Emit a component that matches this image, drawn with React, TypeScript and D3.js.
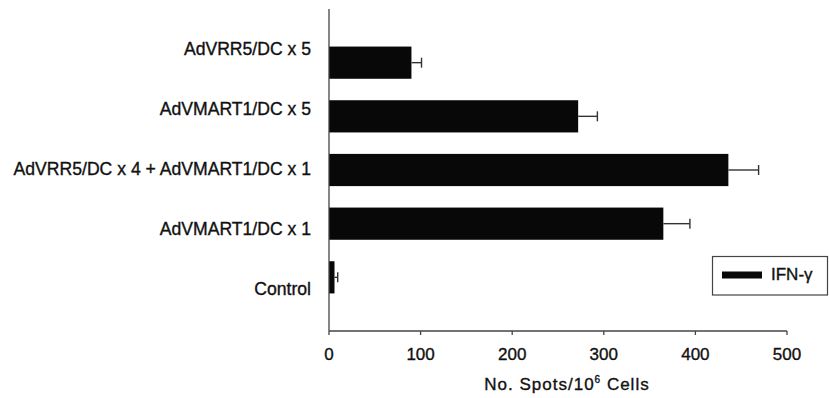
import React from 'react';
import * as d3 from 'd3';

// groups, top to bottom
const categories = [
  'AdVRR5/DC x 5',
  'AdVMART1/DC x 5',
  'AdVRR5/DC x 4 + AdVMART1/DC x 1',
  'AdVMART1/DC x 1',
  'Control',
];
const spots = [90, 272, 436, 365, 6];
const spotsErr = [11, 21, 33, 29, 3.5];
const xTicks = [0, 100, 200, 300, 400, 500];
const seriesName = 'IFN-\u03b3';

const W = 829;
const H = 398;
const FONT = '"Liberation Sans", Arial, Helvetica, sans-serif';

const App: React.FC = () => {
  const x = d3.scaleLinear().domain([0, 500]).range([329, 787]);
  // category axis has 6 slots, bars sit on slots 5..1 (top to bottom)
  const slot = d3.scaleLinear().domain([0, 6]).range([331, 9]);
  const slotH = slot(0) - slot(1);
  const barH = slotH * 0.6;
  // labels in the scan are spaced a bit wider than the bars
  const labelY = d3.scaleLinear().domain([5, 1]).range([55, 295]);

  const rows = categories.map((c, i) => ({
    name: c,
    value: spots[i],
    err: spotsErr[i],
    pos: categories.length - i,
  }));

  const txt = { fill: '#111', stroke: '#111', strokeWidth: 0.35 };

  return (
    <svg
      width={W}
      height={H}
      style={{ position: 'fixed', left: 0, top: 0, background: '#fff' }}
      fontFamily={FONT}
    >
      {/* bars */}
      {rows.map((d) => (
        <rect
          key={d.name}
          x={x(0)}
          y={slot(d.pos) - barH / 2}
          width={x(d.value) - x(0)}
          height={barH}
          fill="#080808"
        />
      ))}

      {/* error bars */}
      {rows.map((d) => {
        const cy = slot(d.pos);
        const xe = x(d.value + d.err);
        return (
          <g key={'e' + d.name} stroke="#333" strokeWidth={1.4}>
            <line x1={x(d.value)} x2={xe} y1={cy} y2={cy} />
            <line x1={xe} x2={xe} y1={cy - 5} y2={cy + 5} />
          </g>
        );
      })}

      {/* axes */}
      <line x1={x(0)} x2={x(0)} y1={slot(6)} y2={slot(0)} stroke="#444" strokeWidth={1.3} />
      <line x1={x(0)} x2={x(500)} y1={slot(0)} y2={slot(0)} stroke="#444" strokeWidth={1.3} />
      {xTicks.map((t) => (
        <g key={t}>
          <line x1={x(t)} x2={x(t)} y1={slot(0)} y2={slot(0) + 4} stroke="#444" strokeWidth={1.3} />
          <text x={x(t)} y={360} textAnchor="middle" fontSize={17} {...txt}>
            {t}
          </text>
        </g>
      ))}

      {/* category labels */}
      {rows.map((d) => (
        <text key={'l' + d.name} x={311} y={labelY(d.pos)} textAnchor="end" fontSize={17.6} {...txt}>
          {d.name}
        </text>
      ))}

      {/* x title */}
      <text x={567} y={390} textAnchor="middle" fontSize={17} letterSpacing={1} {...txt}>
        No. Spots/10
        <tspan dy={-7} fontSize={10}>6</tspan>
        <tspan dy={7}> Cells</tspan>
      </text>

      {/* legend */}
      <rect x={712.5} y={256.5} width={115} height={38.5} fill="#fff" stroke="#444" strokeWidth={1.2} />
      <rect x={722} y={271.5} width={40} height={7} fill="#080808" />
      <text x={771} y={279.5} fontSize={17} {...txt}>
        {seriesName}
      </text>
    </svg>
  );
};

export default App;
